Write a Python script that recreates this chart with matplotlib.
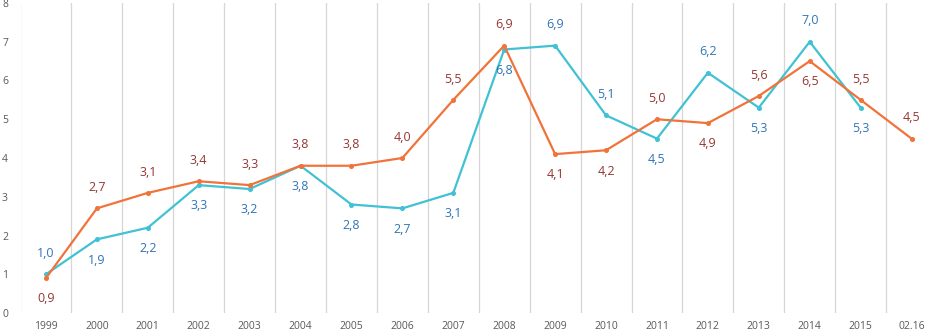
import matplotlib.pyplot as plt
import numpy as np

years = ["1999", "2000", "2001", "2002", "2003", "2004", "2005", "2006", "2007",
         "2008", "2009", "2010", "2011", "2012", "2013", "2014", "2015", "02.16"]

# orange line, dark red labels
orange = [0.9, 2.7, 3.1, 3.4, 3.3, 3.8, 3.8, 4.0, 5.5, 6.9, 4.1, 4.2, 5.0, 4.9, 5.6, 6.5, 5.5, 4.5]
# cyan line, blue labels (no value for 02.16)
cyan = [1.0, 1.9, 2.2, 3.3, 3.2, 3.8, 2.8, 2.7, 3.1, 6.8, 6.9, 5.1, 4.5, 6.2, 5.3, 7.0, 5.3, np.nan]

# label above (+1) or below (-1) the point
orange_pos = [-1, 1, 1, 1, 1, 1, 1, 1, 1, 1, -1, -1, 1, -1, 1, -1, 1, 1]
cyan_pos = [1, -1, -1, -1, -1, -1, -1, -1, -1, -1, 1, 1, -1, 1, -1, 1, -1, 0]

ORANGE = "#F0733A"
CYAN = "#40C2D4"
RED_TXT = "#943634"
BLUE_TXT = "#2E75B6"

plt.rcParams['font.family'] = ['Open Sans', 'DejaVu Sans']

fig = plt.figure(figsize=(9.26, 3.34), dpi=100)
ax = fig.add_axes([20.5 / 926, 21 / 334, 916.5 / 926, 310 / 334])

x = np.arange(len(years))
ax.plot(x, cyan, color=CYAN, lw=1.6, marker="o", ms=2.6, zorder=3)
ax.plot(x, orange, color=ORANGE, lw=1.6, marker="o", ms=2.6, zorder=4)

for i in range(len(years)):
    ax.annotate(f"{orange[i]:.1f}".replace(".", ","), (x[i], orange[i]),
                xytext=(0, 15 * orange_pos[i]), textcoords="offset points",
                ha="center", va="center", fontsize=9, color=RED_TXT)
    if not np.isnan(cyan[i]):
        ax.annotate(f"{cyan[i]:.1f}".replace(".", ","), (x[i], cyan[i]),
                    xytext=(0, 15 * cyan_pos[i]), textcoords="offset points",
                    ha="center", va="center", fontsize=9, color=BLUE_TXT)

ax.set_xlim(-0.5, len(years) - 0.5)
ax.set_ylim(0, 8)
ax.set_xticks(x)
ax.set_xticklabels(years)
ax.set_yticks(range(0, 9))
ax.set_xticks(np.arange(-0.5, len(years), 1), minor=True)
ax.grid(True, which="minor", axis="x", color="#D6D6D6", lw=0.9)
ax.tick_params(axis="both", which="both", length=0, colors="#595959", labelsize=7.5)
ax.tick_params(axis="y", pad=9)
ax.tick_params(axis="x", pad=6)
for s in ax.spines.values():
    s.set_visible(False)

fig.savefig("out.png", dpi=100)
